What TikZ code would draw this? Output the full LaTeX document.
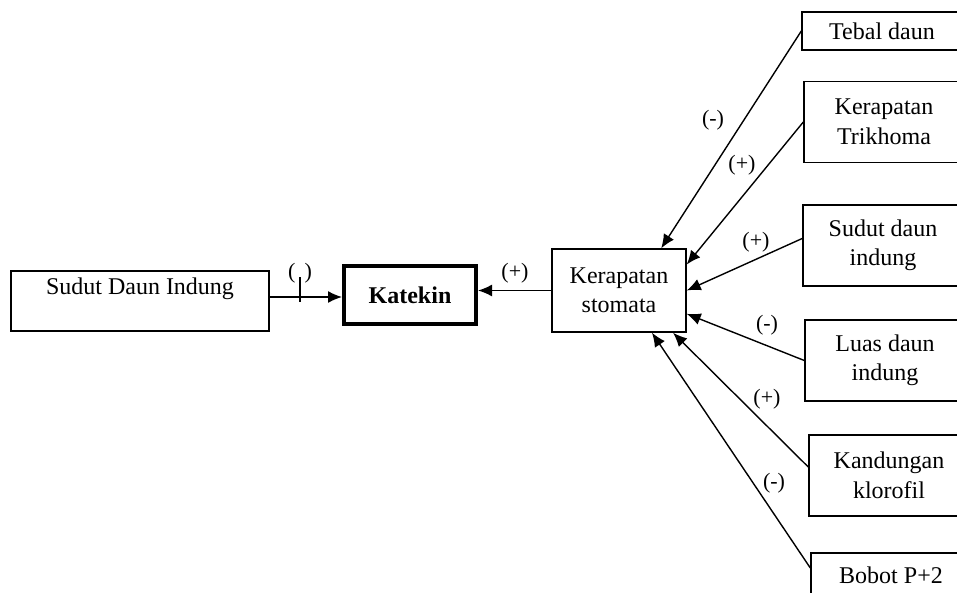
\documentclass[tikz,border=0pt]{standalone}
\usepackage{fontspec}
\setmainfont{Liberation Serif}
\usetikzlibrary{arrows.meta}
\usetikzlibrary{positioning}
\tikzset{
  kotak/.style={draw,line width=1.4pt,align=center,inner sep=0pt,
    font=\fontsize{24}{29.5}\selectfont}, % kotak variabel
  kanan/.style={kotak,minimum width=160pt,minimum height=81pt}, % faktor di kanan
  panah/.style={line width=1.4pt,-{Latex[length=14pt,width=12pt]}}, % panah pengaruh
  tanda/.style={font=\fontsize{22}{26}\selectfont,inner sep=0pt} % tanda (+)/(-)
}
\begin{document}
\begin{tikzpicture}[x=1pt,y=-1pt]
\useasboundingbox (0,0) rectangle (957,592);
\clip (0,0) rectangle (957,592);

%Kotak tengah
\node[kotak,minimum width=258pt,minimum height=60pt] (induk) at (140,301) {Sudut Daun Indung\\[-8pt]\strut};
\node[kotak,line width=4pt,minimum width=132pt,minimum height=58pt,
  font=\fontsize{24}{29.5}\selectfont\bfseries] (katekin) at (410,295) {Katekin};
\node[kotak,minimum width=134pt,minimum height=83pt] (stomata) at (619,290.5) {Kerapatan\\stomata};

%Faktor kanan
\node[kanan,minimum height=38pt] (tebal) at (882,31) {Tebal daun};
\node[kanan] (trikhoma) at (884,122) {Kerapatan\\Trikhoma};
\node[kanan] (sudut) at (883,245.5) {Sudut daun\\indung};
\node[kanan] (luas) at (885,360.5) {Luas daun\\indung};
\node[kanan] (klorofil) at (889,475.5) {Kandungan\\klorofil};
\node[kanan,minimum height=44pt] (bobot) at (891,575) {Bobot P+2};

%Panah
\draw[panah] ([yshift=4pt]induk.east) -- ([yshift=4pt]induk.east -| katekin.west);
\draw[panah] (stomata.west) -- (stomata.west -| katekin.east);
\draw[panah] (tebal.west) -- (stomata.45);
\draw[panah] (trikhoma.west) -- (stomata.21);
\draw[panah] (sudut.175) -- (stomata.east);
\draw[panah] (luas.west) -- (stomata.-19);
\draw[panah] (klorofil.174) -- (stomata.-38);
\draw[panah] (bobot.175) -- (stomata.-52);

%Tanda
\node[tanda] (t0) at (300,273) {(\hspace{9pt})};
\draw[line width=2.5pt] (300,277) -- (300,302);
\node[tanda] (t1) at (515,273) {(+)};
\node[tanda] (t2) at (713,120) {(-)};
\node[tanda] (t3) at (742,165) {(+)};
\node[tanda] (t4) at (756,242) {(+)};
\node[tanda] (t5) at (767,325) {(-)};
\node[tanda] (t6) at (767,399) {(+)};
\node[tanda] (t7) at (774,483) {(-)};
\end{tikzpicture}
\end{document}
